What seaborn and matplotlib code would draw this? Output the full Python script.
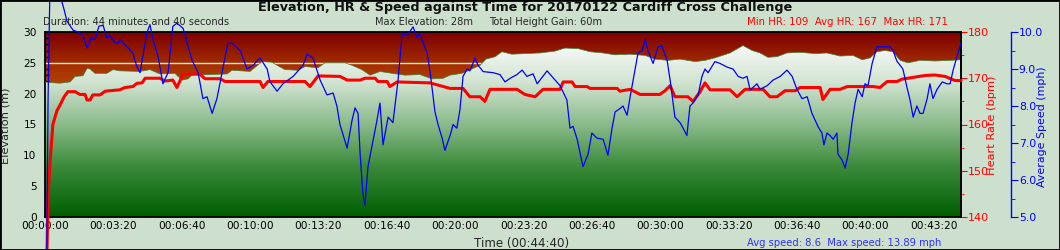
import numpy as np
import matplotlib
matplotlib.use("Agg")
import matplotlib.pyplot as plt
import matplotlib.ticker as mticker
from matplotlib.colors import LinearSegmentedColormap
from matplotlib.patches import Rectangle
import seaborn as sns

# ---------------- data ----------------
elev_time = [0, 15, 44, 73, 88, 111, 123, 132, 146, 181, 199, 219, 278, 307, 336, 380, 401, 418, 430,
             483, 533, 547, 600, 620, 635, 664, 679, 702, 740, 761, 799, 819, 878, 898, 927, 951, 980,
             1015, 1053, 1097, 1132, 1165, 1185, 1220, 1249, 1273, 1290, 1317, 1337, 1366, 1404, 1448,
             1492, 1521, 1560, 1595, 1633, 1668, 1712, 1756, 1785, 1823, 1858, 1902, 1931, 1960, 2004,
             2042, 2069, 2092, 2115, 2142, 2171, 2209, 2253, 2288, 2326, 2364, 2391, 2414, 2434, 2458,
             2481, 2502, 2525, 2560, 2604, 2648, 2680]
elevation = [21.9, 21.8, 21.7, 21.9, 22.8, 22.9, 24.1, 24.0, 23.3, 23.3, 23.9, 23.7, 23.6, 23.9, 23.2,
             23.3, 22.2, 22.4, 23.0, 23.1, 23.2, 23.8, 23.6, 24.5, 25.2, 25.1, 24.6, 23.9, 23.8, 24.4,
             24.2, 25.0, 25.0, 24.6, 23.9, 23.0, 23.6, 23.3, 23.0, 23.1, 22.4, 22.5, 23.0, 23.3, 24.0,
             24.6, 25.6, 26.0, 26.8, 26.4, 26.5, 26.6, 26.9, 27.4, 27.3, 26.8, 26.6, 26.3, 26.4, 26.2,
             25.6, 25.4, 25.6, 25.2, 25.4, 25.8, 26.6, 27.8, 27.0, 26.6, 25.9, 26.0, 26.6, 26.7, 26.5,
             26.6, 26.1, 26.2, 25.5, 25.8, 26.8, 27.0, 26.8, 25.4, 25.0, 25.4, 25.3, 25.4, 25.5]

hr_time = [0, 4, 9, 15, 23, 35, 44, 56, 67, 88, 102, 117, 123, 132, 140, 161, 176, 219, 234, 257, 269,
           284, 293, 336, 351, 374, 386, 404, 453, 468, 512, 527, 629, 638, 652, 761, 775, 799, 863,
           884, 922, 936, 966, 974, 1001, 1009, 1030, 1126, 1156, 1185, 1223, 1243, 1273, 1287, 1302,
           1381, 1404, 1434, 1457, 1507, 1516, 1542, 1551, 1586, 1595, 1674, 1682, 1712, 1741, 1799,
           1814, 1829, 1843, 1881, 1896, 1916, 1931, 1946, 2004, 2025, 2048, 2101, 2121, 2142, 2165,
           2195, 2209, 2268, 2276, 2297, 2326, 2347, 2423, 2443, 2464, 2493, 2507, 2575, 2604, 2633,
           2663, 2680]
heart_rate = [109, 125, 145, 152, 160, 163, 164.2, 166, 167.1, 167.1, 166.5, 166.5, 165.3, 165.3, 166.4,
              166.4, 167.2, 167.5, 168.0, 168.2, 168.9, 169.0, 170.0, 170.0, 169.4, 169.6, 168.0, 170.9,
              170.9, 169.9, 169.9, 169.3, 169.3, 168.0, 169.3, 169.3, 168.2, 170.5, 170.4, 169.6, 169.6,
              170.0, 170.0, 169.3, 169.3, 168.2, 169.2, 169.0, 168.4, 167.8, 167.8, 166.0, 166.0, 165.0,
              167.6, 167.6, 166.5, 166.0, 167.6, 167.6, 169.2, 169.2, 168.2, 168.2, 167.8, 167.8, 167.2,
              167.6, 166.5, 166.5, 167.3, 168.4, 166.0, 166.0, 165.0, 167.0, 169.0, 167.5, 167.5, 166.0,
              167.6, 167.6, 166.0, 166.0, 167.3, 167.3, 168.0, 168.0, 165.4, 167.6, 167.6, 168.2, 168.2,
              168.0, 169.3, 169.3, 169.8, 170.6, 170.7, 170.4, 169.5, 169.5]

spd_time = [3, 6, 9, 15, 23, 35, 44, 56, 64, 82, 97, 111, 123, 135, 146, 158, 170, 181, 190, 205, 214,
            219, 240, 257, 269, 278, 298, 307, 316, 331, 345, 360, 374, 386, 404, 430, 448, 462, 474,
            489, 503, 518, 535, 547, 571, 591, 609, 629, 650, 658, 679, 696, 726, 755, 767, 784, 805,
            825, 843, 854, 863, 884, 898, 907, 916, 922, 930, 936, 945, 960, 971, 980, 989, 1004, 1018,
            1033, 1045, 1059, 1077, 1088, 1097, 1118, 1126, 1141, 1150, 1162, 1170, 1185, 1194, 1205,
            1214, 1223, 1235, 1243, 1258, 1267, 1282, 1311, 1331, 1346, 1361, 1381, 1396, 1410, 1428,
            1440, 1469, 1483, 1507, 1527, 1536, 1545, 1557, 1574, 1589, 1600, 1615, 1633, 1647, 1659,
            1668, 1682, 1691, 1703, 1712, 1726, 1735, 1747, 1756, 1764, 1779, 1794, 1805, 1820, 1829,
            1843, 1858, 1867, 1878, 1887, 1896, 1911, 1922, 1931, 1940, 1960, 1975, 1996, 2013, 2028,
            2042, 2054, 2063, 2083, 2092, 2113, 2130, 2151, 2171, 2186, 2200, 2215, 2230, 2244, 2262,
            2273, 2279, 2288, 2297, 2306, 2317, 2320, 2332, 2341, 2350, 2361, 2370, 2379, 2391, 2399,
            2408, 2420, 2434, 2449, 2464, 2472, 2481, 2493, 2502, 2510, 2522, 2531, 2540, 2551, 2560,
            2569, 2581, 2589, 2598, 2610, 2625, 2639, 2648, 2657, 2668, 2680]
speed = [0.0, 5.0, 8.2, 11.5, 13.9, 12.5, 11.0, 10.6, 10.3, 10.05, 10.0, 9.9, 9.57, 9.84, 9.8, 10.16,
         10.18, 9.84, 9.9, 9.7, 9.7, 9.8, 9.6, 9.43, 9.06, 8.9, 9.97, 10.2, 9.8, 9.33, 8.6, 8.9, 10.15,
         10.24, 10.1, 9.24, 8.9, 8.2, 8.25, 7.8, 8.2, 8.9, 9.7, 9.7, 9.5, 9.0, 9.1, 9.3, 9.0, 8.66, 8.4,
         8.6, 8.8, 9.1, 9.4, 9.3, 8.7, 8.3, 8.35, 8.0, 7.5, 6.86, 7.6, 7.95, 7.8, 6.7, 5.65, 5.32, 6.36,
         7.08, 7.6, 8.08, 6.95, 7.7, 7.55, 8.7, 9.97, 9.9, 10.14, 9.85, 9.95, 9.43, 8.97, 7.84, 7.5,
         7.13, 6.8, 7.2, 7.5, 7.4, 7.9, 8.8, 9.0, 8.95, 9.29, 9.1, 8.93, 8.9, 8.85, 8.65, 8.75, 8.85,
         8.97, 8.8, 8.87, 8.6, 8.95, 8.8, 8.55, 8.16, 7.4, 7.45, 7.1, 6.36, 6.7, 7.27, 7.13, 7.1, 6.67,
         7.4, 7.84, 7.93, 8.0, 7.75, 8.25, 8.97, 9.43, 9.5, 9.8, 9.5, 9.15, 9.6, 9.62, 9.24, 8.7, 7.7,
         7.55, 7.4, 7.2, 8.0, 8.08, 8.3, 8.8, 9.0, 8.9, 9.2, 9.15, 9.05, 9.0, 8.8, 8.75, 8.8, 8.43, 8.6,
         8.45, 8.55, 8.7, 8.8, 8.97, 8.8, 8.45, 8.2, 8.25, 7.8, 7.44, 7.27, 6.95, 7.27, 7.2, 7.1, 7.27,
         6.7, 6.54, 6.32, 6.7, 7.54, 8.08, 8.45, 8.25, 8.6, 8.55, 9.15, 9.6, 9.6, 9.6, 9.6, 9.5, 9.2,
         9.1, 9.0, 8.5, 8.16, 7.7, 8.0, 7.8, 7.8, 8.2, 8.6, 8.2, 8.45, 8.65, 8.6, 8.6, 8.97, 9.33, 9.7]

x_ticks = [0, 200, 400, 600, 800, 1000, 1200, 1400, 1600, 1800, 2000, 2200, 2400, 2600]
avg_elev = 25.0

title = "Elevation, HR & Speed against Time for 20170122 Cardiff Cross Challenge"
duration_txt = "Duration: 44 minutes and 40 seconds"
maxelev_txt = "Max Elevation: 28m"
gain_txt = "Total Height Gain: 60m"
hr_txt = "Min HR: 109  Avg HR: 167  Max HR: 171"
spd_txt = "Avg speed: 8.6  Max speed: 13.89 mph"
time_txt = "Time (00:44:40)"

# ---------------- style ----------------
sns.set_style("white")
plt.rcParams["font.family"] = ["DejaVu Sans"]
BG = "#CDE0CD"
W, H = 1060, 250
fig = plt.figure(figsize=(W / 100, H / 100), dpi=100, facecolor=BG)
L, R, T, B = 45, 961, 32, 217
ax = fig.add_axes([L / W, 1 - B / H, (R - L) / W, (B - T) / H])
TMAX = 2680
ax.set_xlim(0, TMAX)
ax.set_ylim(0, 30)

# red gradient background (above elevation)
red_cmap = LinearSegmentedColormap.from_list("r", ["#C05000", "#A53000", "#7E0000"])
grad = np.linspace(0, 1, 256).reshape(-1, 1)
ax.imshow(grad, extent=[0, TMAX, 19, 30], origin="lower", aspect="auto", cmap=red_cmap, zorder=0)
ax.axhline(avg_elev, color="#FFE6C8", lw=1.0, zorder=1)

# green gradient under elevation
green_cmap = LinearSegmentedColormap.from_list(
    "g", [(0.0, "#005E00"), (0.27, "#3A8A3A"), (0.5, "#8ABA8A"), (0.73, "#D2E4D2"), (0.93, "#F6F9F6"), (1.0, "#FFFFFF")])
poly = ax.fill_between(elev_time, elevation, 0, facecolor="none", edgecolor="none")
img = ax.imshow(grad, extent=[0, TMAX, 0, 30], origin="lower", aspect="auto", cmap=green_cmap, zorder=2)
img.set_clip_path(poly.get_paths()[0], transform=ax.transData)
sns.lineplot(x=elev_time, y=elevation, ax=ax, color="#3C803C", lw=0.5, estimator=None, sort=False,
             zorder=3)
ax.set_xlim(0, TMAX)
ax.set_ylim(0, 30)

def fmt_time(v, p):
    v = int(round(v))
    return f"{v // 3600:02d}:{(v % 3600) // 60:02d}:{v % 60:02d}"

ax.set_xticks(x_ticks)
ax.xaxis.set_minor_locator(mticker.MultipleLocator(100))
ax.xaxis.set_major_formatter(mticker.FuncFormatter(fmt_time))
ax.yaxis.set_major_locator(mticker.MultipleLocator(5))
ax.yaxis.set_minor_locator(mticker.MultipleLocator(1))
ax.tick_params(axis="both", which="both", direction="in", colors="black", labelsize=7.6, width=1)
ax.tick_params(axis="x", which="major", length=4, pad=3)
ax.tick_params(axis="x", which="minor", length=2)
ax.tick_params(axis="y", which="major", length=4, pad=6)
ax.tick_params(axis="y", which="minor", length=3)
for s in ax.spines.values():
    s.set_color("black")
    s.set_linewidth(1.3)
ax.set_xlabel("")
ax.set_ylabel("")

# heart rate axis
ax_hr = ax.twinx()
ax_hr.set_ylim(140, 180)
sns.lineplot(x=hr_time, y=heart_rate, ax=ax_hr, color="#FF0000", lw=2.2, estimator=None, sort=False,
             clip_on=False, zorder=5)
ax_hr.set_ylim(140, 180)
ax_hr.set_xlim(0, TMAX)
ax_hr.yaxis.set_major_locator(mticker.MultipleLocator(10))
ax_hr.yaxis.set_minor_locator(mticker.MultipleLocator(5))
ax_hr.tick_params(axis="y", which="both", direction="out", colors="#FF0000", labelcolor="#FF0000",
                  labelsize=8, pad=1)
ax_hr.tick_params(axis="y", which="major", length=4)
ax_hr.tick_params(axis="y", which="minor", length=2)
for k in ["left", "top", "bottom"]:
    ax_hr.spines[k].set_visible(False)
ax_hr.spines["right"].set_color("black")
ax_hr.spines["right"].set_linewidth(1.3)
ax_hr.set_ylabel("")

# speed axis
ax_sp = ax.twinx()
ax_sp.spines["right"].set_position(("axes", (1010.5 - L) / (R - L)))
for k in ["left", "top", "bottom"]:
    ax_sp.spines[k].set_visible(False)
ax_sp.spines["right"].set_color("#0000FF")
ax_sp.spines["right"].set_linewidth(1.0)
sns.lineplot(x=spd_time, y=speed, ax=ax_sp, color="#0000FF", lw=0.9, estimator=None, sort=False,
             clip_on=False, zorder=6)
ax_sp.set_ylim(5, 10)
ax_sp.set_xlim(0, TMAX)
ax_sp.yaxis.set_major_locator(mticker.MultipleLocator(1))
ax_sp.yaxis.set_minor_locator(mticker.MultipleLocator(0.5))
ax_sp.yaxis.set_major_formatter(mticker.FormatStrFormatter("%.1f"))
ax_sp.tick_params(axis="y", which="both", direction="out", colors="#0000FF", labelcolor="#0000FF",
                  labelsize=7.8, pad=1)
ax_sp.tick_params(axis="y", which="major", length=5)
ax_sp.tick_params(axis="y", which="minor", length=3)
ax_sp.set_ylabel("")

# labels and texts
fig.text(6 / W, 1 - 126 / H, "Elevation (m)", rotation=90, ha="center", va="center", fontsize=8.2)
fig.text(992 / W, 1 - 125 / H, "Heart Rate (bpm)", rotation=90, ha="center", va="center", fontsize=8.2,
         color="#FF0000")
fig.text(1042 / W, 1 - 127 / H, "Average Speed (mph)", rotation=90, ha="center", va="center",
         fontsize=7.9, color="#0000FF")
fig.text(525 / W, 1 - 7 / H, title, ha="center", va="center", fontsize=9.2, fontweight="bold",
         color="#101010")
fig.text(43 / W, 1 - 22 / H, duration_txt, ha="left", va="center", fontsize=7.1)
fig.text(375 / W, 1 - 22 / H, maxelev_txt, ha="left", va="center", fontsize=7.1)
fig.text(489 / W, 1 - 22 / H, gain_txt, ha="left", va="center", fontsize=7.1)
fig.text(747 / W, 1 - 22 / H, hr_txt, ha="left", va="center", fontsize=7.3, color="#FF0000")
fig.text(474 / W, 1 - 243 / H, time_txt, ha="left", va="center", fontsize=8.6)
fig.text(747 / W, 1 - 243 / H, spd_txt, ha="left", va="center", fontsize=7.2, color="#3030FF")

fig.patches.append(Rectangle((0, 0), 1, 1, transform=fig.transFigure, fill=False,
                             edgecolor="black", lw=2, zorder=10))

fig.savefig("out.png", dpi=100, facecolor=BG)
